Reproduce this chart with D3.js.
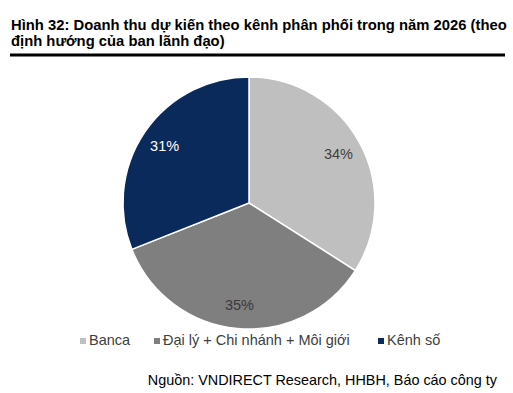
<!DOCTYPE html>
<html><head><meta charset="utf-8">
<script src="https://cdn.jsdelivr.net/npm/d3@7"></script>
<style>body{margin:0;background:#fff}svg{display:block}</style>
</head><body>
<svg id="c" width="513" height="393"></svg>
<script>
const categories = ["Banca", "Đại lý + Chi nhánh + Môi giới", "Kênh số"];
const values = [34, 35, 31];
const colors = ["#bfbfbf", "#7f7f80", "#0b2a5c"];
const labelColors = ["#404040", "#3a3a3a", "#ffffff"];
const titleLines = ["Hình 32: Doanh thu dự kiến theo kênh phân phối trong năm 2026 (theo", "định hướng của ban lãnh đạo)"];
const sourceText = "Nguồn: VNDIRECT Research, HHBH, Báo cáo công ty";

const svg = d3.select("#c");
const font = "'Liberation Sans', Arial, sans-serif";

// title
titleLines.forEach((t, i) => {
  svg.append("text").attr("x", 11).attr("y", 30 + i * 16)
    .attr("font-family", font).attr("font-weight", "bold").attr("font-size", 14.8)
    .attr("fill", "#000").text(t);
});
svg.append("line").attr("x1", 10).attr("x2", 505).attr("y1", 55).attr("y2", 55)
  .attr("stroke", "#000").attr("stroke-width", 3);

// pie
const cx = 249, cy = 203, R = 126;
const pie = d3.pie().sort(null).value(d => d)(values);
const arc = d3.arc().innerRadius(0).outerRadius(R);
const labelArc = d3.arc().innerRadius(R * 0.81).outerRadius(R * 0.81);
const g = svg.append("g").attr("transform", `translate(${cx},${cy})`);
g.selectAll("path").data(pie).join("path")
  .attr("d", arc).attr("fill", (d, i) => colors[i])
  .attr("stroke", "#fff").attr("stroke-width", 1.5);
g.selectAll("text").data(pie).join("text")
  .attr("transform", d => `translate(${labelArc.centroid(d)})`)
  .attr("text-anchor", "middle").attr("dy", "0.35em")
  .attr("font-family", font).attr("font-size", 14.5)
  .attr("fill", (d, i) => labelColors[i])
  .text(d => d.data + "%");

// legend
const legendX = [80, 154, 378];
const lg = svg.append("g");
categories.forEach((c, i) => {
  lg.append("rect").attr("x", legendX[i]).attr("y", 338).attr("width", 6).attr("height", 6).attr("fill", colors[i]);
  lg.append("text").attr("x", legendX[i] + 9).attr("y", 345)
    .attr("font-family", font).attr("font-size", 14.5).attr("fill", "#404040").text(c);
});

// source
svg.append("text").attr("x", 497).attr("y", 385).attr("text-anchor", "end")
  .attr("font-family", font).attr("font-size", 14.4).attr("fill", "#000").text(sourceText);
</script>
</body></html>
